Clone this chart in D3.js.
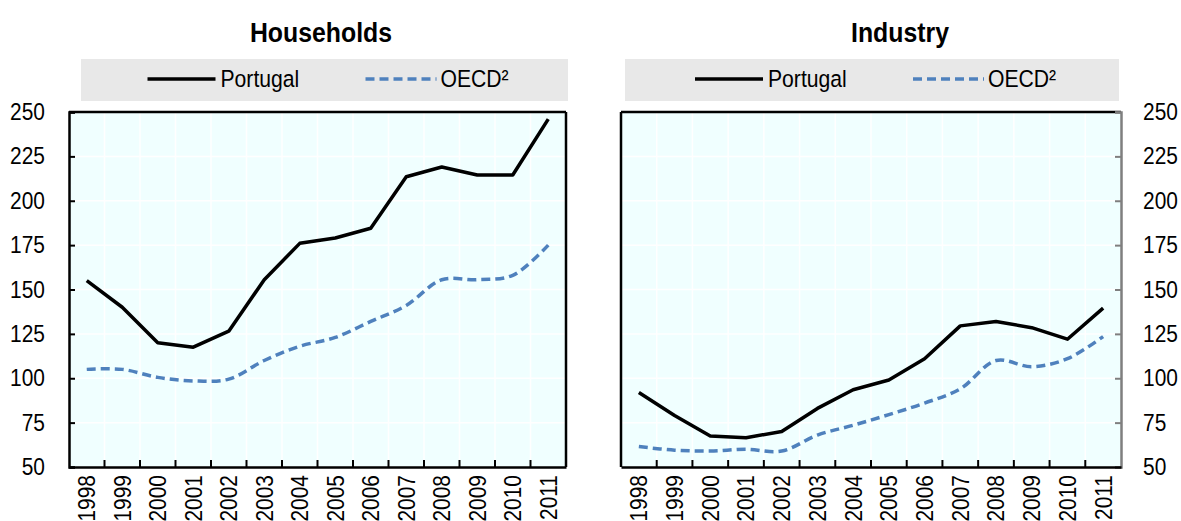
<!DOCTYPE html>
<html lang="en">
<head>
<meta charset="utf-8">
<title>Households and Industry</title>
<script src="https://cdn.jsdelivr.net/npm/d3@7"></script>
<style>
  body { margin: 0; background: #fff; }
  svg text { font-family: "Liberation Sans", Arial, sans-serif; fill: #000; }
  .title { font-weight: bold; font-size: 27px; }
  .tick text { font-size: 23.5px; }
  .legend text { font-size: 23.5px; }
</style>
</head>
<body>
<svg id="chart" width="1181" height="521"></svg>
<script>
// data
var years = ["1998","1999","2000","2001","2002","2003","2004","2005","2006","2007","2008","2009","2010","2011"];
var yTicks = [50, 75, 100, 125, 150, 175, 200, 225, 250];

var householdsPortugal = [155, 140, 120, 117.5, 126.5, 155.5, 176, 179, 184.5, 213.5, 219, 214.5, 214.5, 246];
var householdsOecd     = [105, 105, 100.5, 98.5, 99.5, 110, 118, 123, 132, 141, 155.5, 155.5, 158, 175];
var industryPortugal   = [92, 79, 67.5, 66.5, 70, 83, 93.5, 99, 111, 129.5, 132, 128.5, 122, 139.5];
var industryOecd       = [61.5, 59.5, 59, 60, 59, 68, 73.5, 79.5, 86, 94, 110, 106.5, 111, 123.5];

var seriesNames = ["Portugal", "OECD²"];

var panels = [
  {title: "Households", titleX: 321, left: 69, right: 566, legLeft: 81, legRight: 568, side: "left",
   portugal: householdsPortugal, oecd: householdsOecd},
  {title: "Industry", titleX: 900, left: 621, right: 1121, legLeft: 625, legRight: 1119, side: "right",
   portugal: industryPortugal, oecd: industryOecd}
];

var plotTop = 112, plotBottom = 467;
var blue = "#4f81bd";

// squeeze Liberation Sans into an Arial Narrow look
function narrow(sel, sx) {
  sel.each(function() {
    var t = d3.select(this);
    var x = +t.attr("x") || 0, y = +t.attr("y") || 0;
    var base = t.attr("transform") || "";
    t.attr("x", 0).attr("y", 0)
      .attr("transform", base + " translate(" + x + "," + y + ") scale(" + sx + ",1)");
  });
}

var svg = d3.select("#chart");

var y = d3.scaleLinear().domain([50, 250]).range([plotBottom, plotTop]);

panels.forEach(function(p) {
  var x = d3.scaleBand().domain(years).range([p.left, p.right]);
  var cx = function(d, i) { return x(years[i]) + x.bandwidth() / 2; };
  var g = svg.append("g");

  // title
  g.append("text").attr("class", "title")
    .attr("x", p.titleX).attr("y", 42)
    .attr("text-anchor", "middle").text(p.title)
    .call(narrow, 0.92);

  // legend
  var leg = g.append("g").attr("class", "legend");
  leg.append("rect").attr("x", p.legLeft).attr("y", 59)
    .attr("width", p.legRight - p.legLeft).attr("height", 42).attr("fill", "#e8e8e8");
  var lx = (p.legLeft + p.legRight) / 2;
  leg.append("line").attr("x1", lx - 177).attr("x2", lx - 109).attr("y1", 79).attr("y2", 79)
    .attr("stroke", "#000").attr("stroke-width", 3.5);
  leg.append("text").attr("x", lx - 104).attr("y", 87).text(seriesNames[0]).call(narrow, 0.9);
  leg.append("line").attr("x1", lx + 41).attr("x2", lx + 112).attr("y1", 79).attr("y2", 79)
    .attr("stroke", blue).attr("stroke-width", 3.5).attr("stroke-dasharray", "9,5");
  leg.append("text").attr("x", lx + 116).attr("y", 87).text(seriesNames[1]).call(narrow, 0.9);

  // plot background
  g.append("rect").attr("x", p.left).attr("y", plotTop)
    .attr("width", p.right - p.left).attr("height", plotBottom - plotTop).attr("fill", "#f0ffff");

  // grid
  g.append("g").selectAll("line").data(yTicks).join("line")
    .attr("x1", p.left).attr("x2", p.right)
    .attr("y1", function(d) { return y(d); }).attr("y2", function(d) { return y(d); })
    .attr("stroke", "#fff").attr("stroke-width", 1.5);
  g.append("g").selectAll("line").data(years.slice(1)).join("line")
    .attr("x1", function(d) { return x(d); }).attr("x2", function(d) { return x(d); })
    .attr("y1", plotTop).attr("y2", plotBottom)
    .attr("stroke", "#fff").attr("stroke-width", 1.5);

  // frame: top and the side without an axis
  var axisCol = p.side === "left" ? "#000" : "#7f7f7f";
  var otherSide = p.side === "left" ? p.right : p.left;
  g.append("path")
    .attr("d", "M" + p.left + "," + plotTop + "H" + p.right)
    .attr("fill", "none").attr("stroke", "#000").attr("stroke-width", 2.5);
  g.append("line")
    .attr("x1", otherSide).attr("x2", otherSide)
    .attr("y1", plotTop).attr("y2", plotBottom)
    .attr("stroke", "#000").attr("stroke-width", 2.5);

  // y axis
  var yAxis = (p.side === "left" ? d3.axisLeft(y) : d3.axisRight(y))
    .tickValues(yTicks).tickSize(-6).tickPadding(p.side === "left" ? 24 : 22);
  var ya = g.append("g")
    .attr("transform", "translate(" + (p.side === "left" ? p.left : p.right) + ",0)")
    .call(yAxis);
  ya.select(".domain").attr("stroke", axisCol).attr("stroke-width", 2.5);
  ya.selectAll(".tick line").attr("stroke", axisCol).attr("stroke-width", 2);
  ya.selectAll(".tick text").call(narrow, 0.89);

  // x axis
  var xa = g.append("g").attr("transform", "translate(0," + plotBottom + ")")
    .call(d3.axisBottom(x).tickSize(0).tickPadding(0));
  xa.select(".domain").attr("stroke", "#000").attr("stroke-width", 2.5);
  xa.selectAll(".tick text")
    .attr("transform", "rotate(-90)")
    .attr("x", -8).attr("y", 0).attr("dy", "0.36em")
    .style("text-anchor", "end")
    .call(narrow, 0.89);
  xa.append("g").selectAll("line").data(years.slice(1)).join("line")
    .attr("x1", function(d) { return x(d); }).attr("x2", function(d) { return x(d); })
    .attr("y1", 0).attr("y2", -7)
    .attr("stroke", "#000").attr("stroke-width", 2);

  // lines
  g.append("path").datum(p.oecd)
    .attr("d", d3.line().x(cx).y(function(d) { return y(d); }).curve(d3.curveCatmullRom.alpha(0.5)))
    .attr("fill", "none").attr("stroke", blue).attr("stroke-width", 3.5)
    .attr("stroke-dasharray", "9,5");
  g.append("path").datum(p.portugal)
    .attr("d", d3.line().x(cx).y(function(d) { return y(d); }))
    .attr("fill", "none").attr("stroke", "#000").attr("stroke-width", 3.5)
    .attr("stroke-linejoin", "round");
});
</script>
</body>
</html>
